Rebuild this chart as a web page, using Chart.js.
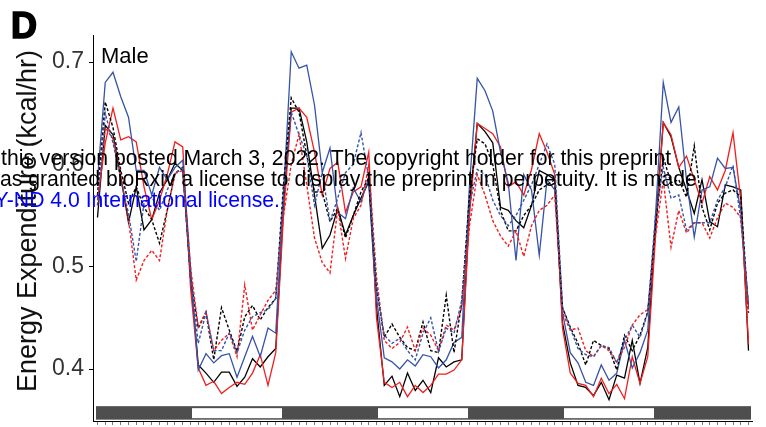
<!DOCTYPE html>
<html><head><meta charset="utf-8">
<script src="https://cdn.jsdelivr.net/npm/chart.js@4.4.1/dist/chart.umd.min.js"></script>
<style>html,body{margin:0;padding:0;background:#fff;}#wrap{width:766px;height:427px;position:relative;}</style>
</head><body><div id="wrap"><canvas id="c" width="766" height="427"></canvas></div>
<script>
// Hours since start of recording (hourly bins)
const hours = [0,1,2,3,4,5,6,7,8,9,10,11,12,13,14,15,16,17,18,19,20,21,22,23,24,25,26,27,28,29,30,31,32,33,34,35,36,37,38,39,40,41,42,43,44,45,46,47,48,49,50,51,52,53,54,55,56,57,58,59,60,61,62,63,64,65,66,67,68,69,70,71,72,73,74,75,76,77,78,79,80,81,82,83,84];
const yTicks = [0.4, 0.5, 0.6, 0.7];
const yTitle = 'Energy Expenditure (kcal/hr)';
// Light/dark schedule (12 h phases)
const phaseEdges = [0, 12, 24, 36, 48, 60, 72, 84];
const phases = ['dark','light','dark','light','dark','light','dark'];
const ldBarRange = [0.3505, 0.3637];

const blueSolid = [0.585,0.680,0.690,0.666,0.646,0.594,0.594,0.570,0.597,0.585,0.597,0.604,
 0.50,
 0.399,0.415,0.406,0.413,0.415,0.392,0.412,0.432,0.412,0.440,0.435,
 0.57,
 0.710,0.694,0.697,0.658,0.592,0.616,0.553,0.547,0.577,0.563,0.587,
 0.47,
 0.411,0.407,0.400,0.409,0.403,0.414,0.412,0.401,0.409,0.426,0.431,
 0.58,
 0.684,0.672,0.652,0.612,0.582,0.506,0.590,0.575,0.511,0.585,0.575,
 0.455,
 0.416,0.406,0.387,0.384,0.404,0.389,0.396,0.428,0.401,0.416,0.438,
 0.55,
 0.680,0.641,0.656,0.585,0.529,0.575,0.578,0.606,0.596,0.597,0.555,
 0.460];
const blackSolid = [0.548,0.638,0.629,0.588,0.543,0.578,0.536,0.546,0.572,0.585,0.601,0.594,
 0.49,
 0.404,0.396,0.387,0.397,0.397,0.383,0.392,0.410,0.402,0.412,0.420,
 0.56,
 0.655,0.655,0.622,0.570,0.518,0.531,0.557,0.531,0.550,0.567,0.583,
 0.46,
 0.384,0.393,0.373,0.396,0.379,0.389,0.377,0.411,0.402,0.407,0.409,
 0.56,
 0.640,0.632,0.621,0.558,0.555,0.545,0.538,0.560,0.594,0.590,0.585,
 0.445,
 0.406,0.384,0.382,0.374,0.387,0.370,0.394,0.391,0.428,0.386,0.421,
 0.54,
 0.641,0.627,0.597,0.575,0.552,0.585,0.544,0.539,0.580,0.578,0.575,
 0.418];
const redSolid = [0.565,0.621,0.655,0.624,0.627,0.622,0.578,0.546,0.565,0.590,0.622,0.617,
 0.48,
 0.401,0.384,0.388,0.376,0.382,0.387,0.385,0.396,0.414,0.384,0.416,
 0.55,
 0.651,0.655,0.646,0.612,0.570,0.596,0.602,0.553,0.573,0.578,0.612,
 0.45,
 0.387,0.382,0.387,0.373,0.384,0.377,0.384,0.395,0.395,0.399,0.409,
 0.55,
 0.640,0.635,0.630,0.617,0.578,0.583,0.570,0.595,0.630,0.612,0.590,
 0.44,
 0.396,0.386,0.384,0.373,0.391,0.376,0.385,0.371,0.412,0.386,0.412,
 0.53,
 0.641,0.629,0.597,0.608,0.585,0.562,0.588,0.575,0.594,0.631,0.565,
 0.425];
const blackDotted = [0.570,0.661,0.636,0.594,0.562,0.578,0.558,0.546,0.523,0.555,0.591,0.597,
 0.49,
 0.440,0.455,0.409,0.460,0.438,0.417,0.451,0.462,0.448,0.460,0.469,
 0.58,
 0.665,0.651,0.609,0.573,0.573,0.544,0.557,0.528,0.550,0.573,0.587,
 0.48,
 0.431,0.444,0.431,0.421,0.418,0.446,0.418,0.416,0.472,0.416,0.465,
 0.57,
 0.625,0.620,0.600,0.555,0.535,0.535,0.550,0.560,0.575,0.580,0.585,
 0.46,
 0.441,0.425,0.404,0.428,0.423,0.420,0.399,0.433,0.418,0.433,0.456,
 0.54,
 0.607,0.582,0.585,0.568,0.618,0.558,0.536,0.562,0.572,0.575,0.568,
 0.455];
const blueDotted = [0.560,0.650,0.621,0.585,0.552,0.505,0.562,0.568,0.555,0.575,0.591,0.597,
 0.49,
 0.425,0.455,0.418,0.418,0.435,0.416,0.438,0.451,0.455,0.458,0.469,
 0.57,
 0.651,0.629,0.609,0.560,0.592,0.544,0.567,0.592,0.600,0.631,0.587,
 0.48,
 0.433,0.425,0.430,0.418,0.409,0.435,0.450,0.417,0.440,0.435,0.467,
 0.56,
 0.595,0.590,0.565,0.550,0.540,0.550,0.565,0.580,0.600,0.620,0.600,
 0.46,
 0.440,0.420,0.414,0.412,0.423,0.421,0.406,0.428,0.443,0.431,0.455,
 0.55,
 0.597,0.567,0.570,0.536,0.543,0.543,0.543,0.565,0.578,0.599,0.546,
 0.464];
const redDotted = [0.560,0.636,0.625,0.590,0.546,0.487,0.506,0.516,0.506,0.555,0.591,0.594,
 0.50,
 0.441,0.456,0.418,0.428,0.435,0.412,0.482,0.438,0.453,0.467,0.477,
 0.55,
 0.600,0.629,0.580,0.528,0.504,0.494,0.557,0.508,0.547,0.560,0.599,
 0.49,
 0.428,0.420,0.426,0.441,0.418,0.440,0.433,0.418,0.443,0.438,0.460,
 0.54,
 0.590,0.570,0.545,0.530,0.520,0.535,0.510,0.540,0.555,0.560,0.570,
 0.455,
 0.438,0.440,0.418,0.412,0.423,0.418,0.407,0.421,0.443,0.453,0.458,
 0.53,
 0.585,0.519,0.555,0.533,0.543,0.543,0.528,0.548,0.562,0.558,0.548,
 0.458];

const BLUE = '#3553a8', RED = '#f21d1d', BLACK = '#000000';
const FONT = "'Liberation Sans', Arial, Helvetica, sans-serif";

function ds(label, data, color, dotted){
  return {label, data, borderColor: color, backgroundColor: color, borderWidth: dotted ? 1.4 : 1.3,
    borderDash: dotted ? [3,2] : [], pointRadius: 0, tension: 0, fill: false};
}

const overlay = {
  id: 'overlay',
  beforeDatasetsDraw(chart){
    const {ctx, scales:{x, y}} = chart;
    const top = y.getPixelForValue(ldBarRange[1]);
    const bot = y.getPixelForValue(ldBarRange[0]);
    const x0 = x.getPixelForValue(phaseEdges[0]) - 1.5;
    const x1 = x.getPixelForValue(phaseEdges[phaseEdges.length-1]) + 2.5;
    ctx.save();
    ctx.fillStyle = '#4e4e4e';
    ctx.fillRect(x0, top, x1 - x0, bot - top);
    ctx.fillStyle = '#ffffff';
    phases.forEach((p, i) => {
      if (p !== 'light') return;
      const a = x.getPixelForValue(phaseEdges[i]) + 1.5;
      const b = x.getPixelForValue(phaseEdges[i+1]) - 1.5;
      ctx.fillRect(a, top + 2, b - a, bot - top - 3.5);
    });
    ctx.restore();
  },
  afterDraw(chart){
    const ctx = chart.ctx;
    ctx.save();
    // y-axis title
    ctx.save();
    ctx.translate(28.5, 221);
    ctx.rotate(-Math.PI / 2);
    ctx.textAlign = 'center';
    ctx.textBaseline = 'middle';
    ctx.fillStyle = '#111';
    ctx.font = '27px ' + FONT;
    ctx.fillText(yTitle, 0, 0);
    ctx.restore();
    ctx.textBaseline = 'alphabetic';
    ctx.textAlign = 'left';
    ctx.fillStyle = '#000';
    ctx.strokeStyle = '#000';
    ctx.lineWidth = 1.6;
    ctx.font = 'bold 36px ' + FONT;
    ctx.fillText('D', 11, 37.5);
    ctx.strokeText('D', 11, 37.5);
    ctx.font = '22px ' + FONT;
    ctx.fillText('Male', 101, 63);
    ctx.font = '21.2px ' + FONT;
    ctx.fillStyle = '#000';
    ctx.fillText('this version posted March 3, 2022. The copyright holder for this preprint', 1, 165);
    ctx.fillText('as granted bioRxiv a license to display the preprint in perpetuity. It is made', 0, 186);
    ctx.fillStyle = '#0000ff';
    ctx.textAlign = 'right';
    ctx.fillText('Y-ND 4.0 International license.', 280, 207);
    ctx.restore();
  }
};

new Chart(document.getElementById('c'), {
  type: 'line',
  data: {
    labels: hours,
    datasets: [
      ds('Blue dotted', blueDotted, BLUE, true),
      ds('Red dotted', redDotted, RED, true),
      ds('Black dotted', blackDotted, BLACK, true),
      ds('Blue solid', blueSolid, BLUE, false),
      ds('Red solid', redSolid, RED, false),
      ds('Black solid', blackSolid, BLACK, false)
    ]
  },
  options: {
    responsive: false,
    animation: false,
    devicePixelRatio: 1,
    layout: {padding: {left: 0, right: 14, top: 35, bottom: 2}},
    plugins: {legend: {display: false}, tooltip: {enabled: false}},
    scales: {
      x: {
        type: 'linear', min: -0.58, max: 84.45,
        afterBuildTicks: s => { s.ticks = hours.map(v => ({value: v})); },
        afterFit: s => { s.height = 4; s.paddingLeft = 0; s.paddingRight = 0; },
        grid: {display: true, drawOnChartArea: false, drawTicks: true, tickLength: 4, color: '#7a7a7a', lineWidth: 1},
        border: {display: true, color: '#000', width: 1},
        ticks: {display: false}
      },
      y: {
        min: 0.3492, max: 0.7264,
        afterBuildTicks: s => { s.ticks = yTicks.map(v => ({value: v})); },
        afterFit: s => { s.width = 93; s.paddingTop = 0; s.paddingBottom = 0; },
        grid: {display: true, drawOnChartArea: false, drawTicks: true, tickLength: 4, color: '#000'},
        border: {display: true, color: '#000', width: 1},
        ticks: {font: {size: 23, family: FONT}, color: '#333', padding: 5, callback: v => Number(v).toFixed(1)},
        title: {display: false}
      }
    }
  },
  plugins: [overlay]
});
</script>
</body></html>
